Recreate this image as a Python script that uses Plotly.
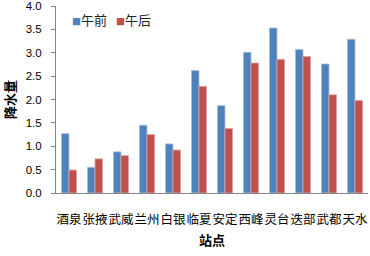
import plotly.graph_objects as go

stations = ["酒泉", "张掖", "武威", "兰州", "白银", "临夏", "安定", "西峰", "灵台", "迭部", "武都", "天水"]
before_noon = [1.27, 0.55, 0.88, 1.45, 1.05, 2.62, 1.87, 3.01, 3.53, 3.07, 2.76, 3.29]
after_noon = [0.49, 0.73, 0.80, 1.25, 0.92, 2.28, 1.38, 2.78, 2.86, 2.92, 2.10, 1.98]
series_names = ["午前", "午后"]
y_ticks = [0.0, 0.5, 1.0, 1.5, 2.0, 2.5, 3.0, 3.5, 4.0]

blue = "#4F81BD"
red = "#C0504D"
cjk = "Noto Sans CJK SC"

W, H = 370, 256

fig = go.Figure()
fig.add_trace(go.Bar(x=stations, y=before_noon, name=series_names[0],
                     marker=dict(color=blue, line=dict(color="#A7C0DE", width=0.8)),
                     showlegend=False))
fig.add_trace(go.Bar(x=stations, y=after_noon, name=series_names[1],
                     marker=dict(color=red, line=dict(color="#DDA3A1", width=0.8)),
                     showlegend=False))
# legend entries: coloured square glyph kept next to the text
for nm, c, lg in zip(series_names, [blue, red], ["legend", "legend2"]):
    fig.add_trace(go.Scatter(x=[None], y=[None], mode="markers",
                             name=f"<span style='color:{c};font-size:9px'>■</span>{nm}",
                             marker=dict(symbol="square", size=1, color="rgba(0,0,0,0)"),
                             legend=lg))

leg_common = dict(orientation="h", xref="container", yref="container",
                  xanchor="left", yanchor="middle", y=1 - 20 / H,
                  font=dict(family=cjk, size=13, color="#222"),
                  bgcolor="rgba(0,0,0,0)", borderwidth=0)

fig.update_layout(
    width=W, height=H,
    margin=dict(l=56, r=2, t=6, b=63, autoexpand=False),
    paper_bgcolor="white", plot_bgcolor="white",
    barmode="group", bargap=0.42, bargroupgap=0,
    font=dict(family=cjk, size=11, color="black"),
    legend=dict(x=32 / W, **leg_common),
    legend2=dict(x=76 / W, **leg_common),
    xaxis=dict(range=[-0.5, 11.5], showline=True, linecolor="#868686", linewidth=1,
               ticks="", tickangle=0, tickfont=dict(family=cjk, size=12.5, color="black"),
               ticklabelstandoff=15, automargin=False, ticklabeloverflow="allow",
               title=dict(text="站点", font=dict(family=cjk, size=13, color="black", weight="bold"),
                          standoff=8),
               showgrid=False, zeroline=False, fixedrange=True),
    yaxis=dict(range=[0, 4.0], tickvals=y_ticks, tickformat=".1f",
               showline=True, linecolor="#868686", linewidth=1,
               ticks="outside", ticklen=4, tickcolor="#868686",
               tickfont=dict(family="Liberation Sans", size=11.5, color="black"),
               ticklabelstandoff=7, automargin=False, ticklabeloverflow="allow",
               title=dict(text="降水量", font=dict(family=cjk, size=13, color="black", weight="bold"),
                          standoff=18),
               showgrid=False, zeroline=False, fixedrange=True),
)

# remove the browser's default 8px page margin so the figure fills the window
fig.write_html("out.html", config={"displayModeBar": False},
               post_script="document.body.style.margin='0';document.body.style.overflow='hidden';")
